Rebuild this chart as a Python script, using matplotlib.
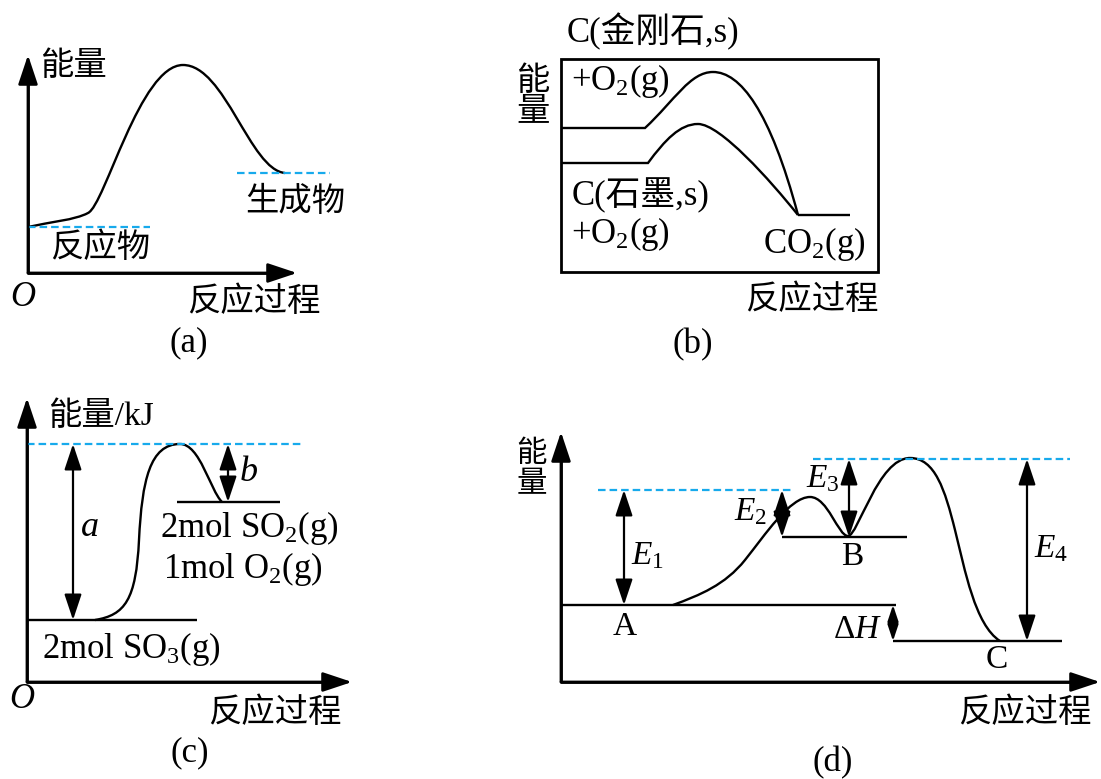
import matplotlib
matplotlib.use("Agg")
import matplotlib.pyplot as plt
from matplotlib.path import Path
from matplotlib.patches import PathPatch, Rectangle

plt.rcParams['font.family'] = ['Liberation Serif', 'Noto Sans CJK SC']
plt.rcParams['mathtext.fontset'] = 'custom'
plt.rcParams['mathtext.rm'] = 'Liberation Serif'
plt.rcParams['mathtext.it'] = 'Liberation Serif:italic'

BLUE = '#17aaec'

# ---- (a) 放热/吸热示意 ----
a_origin = (28, 273)
a_tips = [(28, 55), (297, 273)]
a_curve = [(28, 227), (50, 222), (75, 220), (88, 213), (105, 205), (140, 65),
           (183, 65), (225, 65), (250, 170), (285, 173)]
a_dash = [[(28, 227), (150, 227)], [(237, 173), (330, 173)]]

# ---- (b) 金刚石 / 石墨 ----
b_box = (561, 59, 878, 272)
b_diamond = [(561, 128), (645, 128), (675, 100), (690, 72), (713, 72),
             (740, 72), (770, 110), (798, 215)]
b_graphite = [(561, 163), (648, 163), (665, 140), (680, 124), (698, 124),
              (720, 124), (770, 180), (798, 215)]
b_co2 = [(798, 215), (850, 215)]

# ---- (c) SO3 分解 ----
c_origin = (27, 682)
c_tips = [(27, 398), (352, 682)]
c_so3 = [(27, 620), (197, 620)]
c_so2 = [(177, 502), (280, 502)]
c_curve = [(95, 620), (125, 615), (136, 600), (139, 540), (142, 480), (150, 444),
           (180, 444), (200, 444), (210, 490), (222, 502)]
c_dash = [(27, 444), (303, 444)]
c_arrows = [(73, 444, 620), (228, 444, 502)]

# ---- (d) 两步反应 ----
d_origin = (561, 682)
d_tips = [(561, 432), (1100, 682)]
d_levels = [[(561, 605), (896, 605)], [(782, 537), (907, 537)], [(893, 641), (1062, 641)]]
d_dash = [[(598, 490), (793, 490)], [(813, 459), (1070, 459)]]
d_curve = [(673, 605), (700, 595), (725, 585), (745, 560), (765, 535), (790, 497),
           (810, 497), (828, 497), (838, 536), (848, 536), (858, 536), (878, 458),
           (910, 458), (935, 458), (945, 490), (955, 530), (965, 570), (975, 625),
           (1000, 641)]
d_arrows = [(624, 490, 605), (782, 490, 537), (849, 459, 537), (1027, 459, 641)]
d_dh_arrow = (893, 605, 641)


fig = plt.figure(figsize=(11.01, 7.79), dpi=100)
ax = fig.add_axes([0, 0, 1, 1])
ax.set_xlim(0, 1101)
ax.set_ylim(779, 0)
ax.axis('off')


def bezier(pts, codes, lw=1.7):
    cmap = {'M': Path.MOVETO, 'L': Path.LINETO, 'C': Path.CURVE4}
    p = Path(pts, [cmap[c] for c in codes])
    ax.add_patch(PathPatch(p, fc='none', ec='k', lw=lw, capstyle='butt'))


def line(pts, **kw):
    xs, ys = zip(*pts)
    ax.plot(xs, ys, color=kw.pop('color', 'k'), lw=kw.pop('lw', 1.7),
            solid_capstyle='butt', **kw)


def dashed(pts):
    line(pts, color=BLUE, lw=1.6, dashes=(3.4, 1.8))


def axes_l(origin, tips):
    ytip, xtip = tips
    line([(ytip[0], ytip[1] + 8), origin, (xtip[0] - 8, xtip[1])], lw=2)
    for t in tips:
        ax.annotate('', xy=t, xytext=origin,
                    arrowprops=dict(arrowstyle='-|>,head_length=0.9,head_width=0.3',
                                    lw=2, color='k', shrinkA=0, shrinkB=0,
                                    mutation_scale=20))


def darrow(x, y0, y1, ms=21):
    ax.annotate('', xy=(x, y1), xytext=(x, y0),
                arrowprops=dict(arrowstyle='<|-|>,head_length=0.75,head_width=0.25',
                                lw=1.6, color='k', shrinkA=0, shrinkB=0,
                                mutation_scale=ms))


LAT = 25
CJK = 24

# (a)
axes_l(a_origin, a_tips)
bezier(a_curve, 'M' + 'C' * 9)
for seg in a_dash:
    dashed(seg)
ax.text(40, 67, '能量', fontsize=CJK, va='center')
ax.text(245, 202, '生成物', fontsize=CJK, va='center')
ax.text(50, 248, '反应物', fontsize=CJK, va='center')
ax.text(23, 297, 'O', fontsize=LAT, style='italic', ha='center', va='center')
ax.text(187, 302, '反应过程', fontsize=CJK, va='center')
ax.text(189, 343, '(a)', fontsize=LAT, ha='center', va='center')

# (b)
x0, y0, x1, y1 = b_box
ax.add_patch(Rectangle((x0, y0), x1 - x0, y1 - y0, fc='none', ec='k', lw=2))
bezier(b_diamond, 'ML' + 'C' * 6)
bezier(b_graphite, 'ML' + 'C' * 6)
line(b_co2)
ax.text(567, 42, 'C(金刚石,s)', fontsize=LAT, va='baseline')
ax.text(533, 97, '能\n量', fontsize=CJK, ha='center', va='center', linespacing=1.0)
ax.text(571, 90, '+O$_2$(g)', fontsize=LAT, va='baseline')
ax.text(572, 205, 'C(石墨,s)', fontsize=LAT, va='baseline')
ax.text(571, 243, '+O$_2$(g)', fontsize=LAT, va='baseline')
ax.text(866, 253, 'CO$_2$(g)', fontsize=LAT, ha='right', va='baseline')
ax.text(745, 300, '反应过程', fontsize=CJK, va='center')
ax.text(693, 345, '(b)', fontsize=LAT, ha='center', va='center')

# (c)
axes_l(c_origin, c_tips)
line(c_so3)
line(c_so2)
bezier(c_curve, 'M' + 'C' * 9)
dashed(c_dash)
for x, ya, yb in c_arrows:
    darrow(x, ya, yb)
ax.text(48, 417, '能量/kJ', fontsize=CJK, va='center')
ax.text(90, 527, 'a', fontsize=26, style='italic', ha='center', va='center')
ax.text(249, 472, 'b', fontsize=26, style='italic', ha='center', va='center')
ax.text(160, 537, '2mol SO$_2$(g)', fontsize=LAT, va='baseline')
ax.text(163, 578, '1mol O$_2$(g)', fontsize=LAT, va='baseline')
ax.text(42, 658, '2mol SO$_3$(g)', fontsize=LAT, va='baseline')
ax.text(22, 700, 'O', fontsize=LAT, style='italic', ha='center', va='center')
ax.text(208, 713, '反应过程', fontsize=CJK, va='center')
ax.text(190, 753, '(c)', fontsize=LAT, ha='center', va='center')

# (d)
axes_l(d_origin, d_tips)
for seg in d_levels:
    line(seg)
for seg in d_dash:
    dashed(seg)
bezier(d_curve, 'M' + 'C' * 18)
for x, ya, yb in d_arrows:
    darrow(x, ya, yb)
darrow(*d_dh_arrow, ms=13)
ax.text(532, 470, '能\n量', fontsize=22, ha='center', va='center', linespacing=1.05)
ax.text(631, 564, '$E_1$', fontsize=24, va='baseline')
ax.text(734, 520, '$E_2$', fontsize=24, va='baseline')
ax.text(806, 487, '$E_3$', fontsize=24, va='baseline')
ax.text(1034, 557, '$E_4$', fontsize=24, va='baseline')
ax.text(882, 638, 'Δ$H$', fontsize=24, ha='right', va='baseline')
ax.text(625, 627, 'A', fontsize=24, ha='center', va='center')
ax.text(852, 557, 'B', fontsize=24, ha='center', va='center')
ax.text(997, 660, 'C', fontsize=24, ha='center', va='center')
ax.text(958, 713, '反应过程', fontsize=CJK, va='center')
ax.text(833, 763, '(d)', fontsize=LAT, ha='center', va='center')

fig.savefig('out.png', dpi=100)
